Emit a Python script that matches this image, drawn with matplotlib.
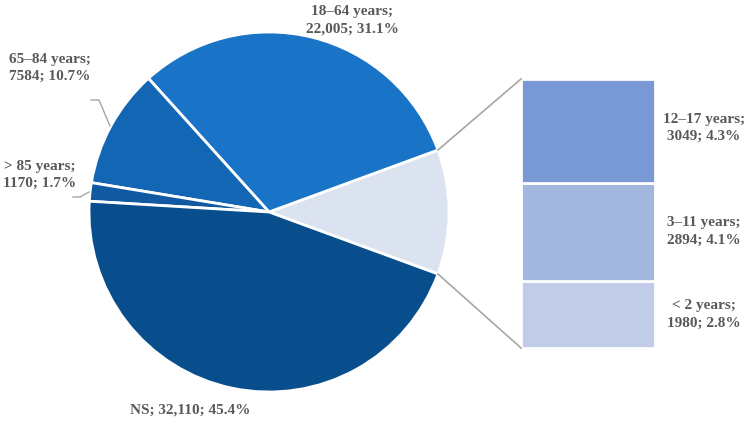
import numpy as np
import matplotlib
matplotlib.use("Agg")
import matplotlib.pyplot as plt

# ---- data ----
pie_labels = ["Others", "18–64 years", "65–84 years", "> 85 years", "NS"]
pie_values = [None, 22005, 7584, 1170, 32110]
bar_labels = ["< 2 years", "3–11 years", "12–17 years"]
bar_values = [1980, 2894, 3049]
pie_values[0] = sum(bar_values)

pie_colors = ["#dce3f0", "#1974c8", "#1366b3", "#115aa2", "#094e8c"]
bar_colors = ["#c1cde8", "#a3b7de", "#7899d3"]

total = sum(pie_values)
W, H = 748, 421
fig = plt.figure(figsize=(W / 100, H / 100), dpi=100)
ax = fig.add_axes([0, 0, 1, 1])
ax.set_xlim(0, W)
ax.set_ylim(0, H)
ax.set_aspect("equal")
ax.axis("off")

cx, cy, R = 269, 209, 180
others_deg = 360 * pie_values[0] / total
start = -others_deg / 2
wedges, _ = ax.pie(pie_values, colors=pie_colors, startangle=start, counterclock=True,
                   center=(cx, cy), radius=R, frame=True,
                   wedgeprops=dict(edgecolor="white", linewidth=2))
ax.set_xlim(0, W)
ax.set_ylim(0, H)
ax.axis("off")

# bar of pie
bx, bw = 588, 134
btop, bbot = 421 - 79, 421 - 348
scale = (btop - bbot) / sum(bar_values)
bottom = bbot
bar_tops = []
for v, c in zip(bar_values, bar_colors):
    ax.bar(bx, v * scale, bottom=bottom, width=bw, color=c, edgecolor="white", linewidth=2)
    bar_tops.append((bottom, bottom + v * scale))
    bottom += v * scale

# connection lines
a1 = np.deg2rad(start + others_deg)
a0 = np.deg2rad(start)
lc = "#a6a6a6"
ax.plot([cx + R * np.cos(a1), bx - bw / 2], [cy + R * np.sin(a1), btop], color=lc, lw=1.2)
ax.plot([cx + R * np.cos(a0), bx - bw / 2], [cy + R * np.sin(a0), bbot], color=lc, lw=1.2)

tc = "#595959"
fp = dict(family=["Liberation Serif", "DejaVu Serif"], fontsize=11, fontweight="bold",
          color=tc, ha="center", va="center", linespacing=1.45)

def pct(v):
    return f"{100 * v / total:.1f}%"

def num(v):
    return f"{v:,}" if v >= 10000 else f"{v}"

# pie labels
ax.text(352, 421 - 20, f"{pie_labels[1]};\n{num(pie_values[1])}; {pct(pie_values[1])}", **fp)
ax.text(50, 421 - 68, f"{pie_labels[2]};\n{num(pie_values[2])}; {pct(pie_values[2])}", **fp)
ax.text(40, 421 - 175, f"{pie_labels[3]};\n{num(pie_values[3])}; {pct(pie_values[3])}", **fp)
ax.text(190, 421 - 410, f"{pie_labels[4]}; {num(pie_values[4])}; {pct(pie_values[4])}", **fp)

# leader lines
ax.plot([91, 99, 110], [421 - 100, 421 - 100, 421 - 126], color=lc, lw=1.0)
ax.plot([73, 80, 89], [421 - 197, 421 - 197, 421 - 192], color=lc, lw=1.0)

# bar labels
for (b0, b1), lab, v in zip(bar_tops, bar_labels, bar_values):
    ax.text(704, (b0 + b1) / 2 + (3 if v == bar_values[-1] else 0),
            f"{lab};\n{num(v)}; {pct(v)}", **fp)

fig.savefig("out.png", dpi=100)
